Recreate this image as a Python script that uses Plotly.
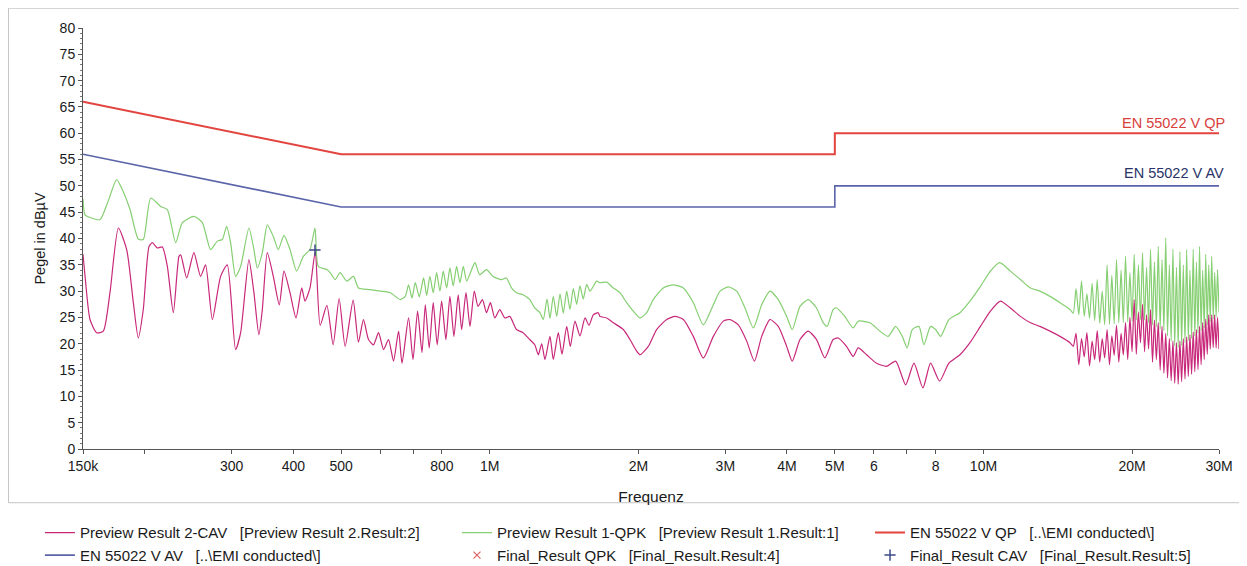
import plotly.graph_objects as go

# ---------------- data (frequencies in MHz, levels in dBµV) ----------------
qpk_f = [0.150, 0.1514, 0.1550, 0.1624, 0.1685, 0.1755, 0.1808, 0.1868, 0.1941, 0.1987,
         0.2057, 0.2155, 0.2223, 0.2311, 0.2384, 0.2516, 0.2617, 0.2720, 0.2807, 0.2873,
         0.2931, 0.2986, 0.3056, 0.3129, 0.3252, 0.3329, 0.3382, 0.3462, 0.3543, 0.3644,
         0.3730, 0.3830, 0.3939, 0.4064, 0.4191, 0.4324, 0.4426, 0.4494, 0.4678, 0.4750,
         0.4862, 0.4977, 0.5135, 0.5296, 0.5420, 0.5726, 0.6000, 0.6287, 0.6588, 0.6744,
         0.6848, 0.6957, 0.7066, 0.7199, 0.7345, 0.7450, 0.7564, 0.7682, 0.7805, 0.7926,
         0.8049, 0.8178, 0.8304, 0.8433, 0.8568, 0.8700, 0.8838, 0.8979, 0.9191, 0.9334,
         0.9544, 0.9847, 1.0155, 1.0561, 1.0810, 1.1065, 1.1327, 1.1680, 1.2052, 1.2337,
         1.2639, 1.2835, 1.3064, 1.3243, 1.3449, 1.3663, 1.3877, 1.4091, 1.4316, 1.4538,
         1.4764, 1.5000, 1.5232, 1.5468, 1.5717, 1.5960, 1.6467, 1.6719, 1.7250, 1.7790,
         1.8356, 1.8938, 1.9530, 2.0150, 2.079, 2.144, 2.246, 2.354, 2.467, 2.584,
         2.708, 2.837, 2.927, 3.042, 3.164, 3.289, 3.419, 3.555, 3.695, 3.841,
         3.994, 4.100, 4.250, 4.415, 4.591, 4.735, 4.824, 4.960, 5.040, 5.239,
         5.445, 5.577, 5.889, 6.170, 6.414, 6.641, 6.848, 7.007, 7.175, 7.403,
         7.575, 7.815, 8.000, 8.189, 8.512, 8.962, 9.391, 9.861, 10.33, 10.79,
         11.34, 11.88, 12.45, 13.01, 13.64, 14.29, 14.97,
         15.2, 15.4, 15.6, 15.8, 16.0, 16.2, 16.4, 16.6, 16.8, 17.0,
         17.2, 17.4, 17.6, 17.8, 18.0, 18.2, 18.4, 18.6, 18.8, 19.0,
         19.2, 19.4, 19.6, 19.8, 20.0, 20.2, 20.4, 20.6, 20.8, 21.0,
         21.2, 21.4, 21.6, 21.8, 22.0, 22.2, 22.4, 22.6, 22.8, 23.0,
         23.2, 23.4, 23.6, 23.8, 24.0, 24.2, 24.4, 24.6, 24.8, 25.0,
         25.2, 25.4, 25.6, 25.8, 26.0, 26.2, 26.4, 26.6, 26.8, 27.0,
         27.2, 27.4, 27.6, 27.8, 28.0, 28.2, 28.4, 28.6, 28.8, 29.0,
         29.2, 29.4, 29.6, 29.8, 30.0]
qpk_db = [47.5, 44.5, 44.0, 43.6, 47.0, 51.2, 49.0, 45.5, 39.9, 39.8,
          47.7, 46.1, 45.5, 39.2, 43.0, 44.2, 43.0, 37.9, 39.5, 39.8,
          42.3, 39.2, 32.8, 34.7, 42.0, 37.9, 34.4, 37.3, 42.6, 40.4,
          37.9, 40.6, 37.9, 33.8, 36.6, 37.9, 42.0, 34.7, 34.1, 33.5,
          32.2, 33.5, 31.9, 32.8, 30.6, 30.3, 30.0, 29.7, 28.4, 29.0,
          31.2, 28.7, 31.6, 28.9, 32.5, 29.2, 32.8, 29.7, 33.5, 30.0,
          33.8, 30.6, 34.4, 31.0, 34.7, 31.6, 34.7, 31.9, 34.1, 35.4,
          33.1, 34.1, 32.8, 32.2, 32.5, 30.6, 29.7, 29.3, 28.4, 26.8,
          25.9, 24.6, 28.5, 24.8, 29.0, 25.2, 29.5, 25.8, 30.0, 26.5,
          30.5, 27.5, 31.0, 28.5, 31.3, 30.0, 31.9, 31.6, 31.7, 30.6,
          29.7, 27.8, 26.2, 24.9, 25.9, 28.4, 30.6, 31.2, 30.6, 27.8,
          23.6, 27.4, 30.0, 30.8, 30.0, 26.8, 23.0, 27.4, 30.0, 28.4,
          25.2, 22.7, 27.1, 28.4, 26.8, 24.0, 23.3, 26.5, 26.8, 25.2,
          23.0, 24.3, 24.0, 22.4, 21.4, 23.3, 21.4, 19.2, 22.7, 23.3,
          19.8, 23.3, 22.7, 21.4, 24.6, 25.9, 28.1, 30.9, 33.8, 35.4,
          33.8, 32.2, 30.6, 30.0, 29.0, 27.8, 26.5,
          25.8, 30.5, 25.5, 31.9, 25.2, 29.5, 24.8, 31.5, 24.4, 32.2,
          23.9, 30.0, 23.6, 35.0, 23.7, 33.0, 23.8, 36.0, 24.0, 34.0,
          24.0, 36.6, 24.2, 33.5, 24.3, 37.0, 24.5, 35.0, 24.6, 37.3,
          24.5, 34.5, 24.0, 37.9, 23.6, 35.5, 23.2, 38.5, 22.8, 36.0,
          22.5, 40.1, 21.5, 35.0, 20.5, 38.0, 19.6, 34.5, 19.3, 37.5,
          19.7, 35.0, 20.2, 37.9, 20.6, 34.0, 21.0, 38.0, 21.5, 35.5,
          22.0, 38.5, 22.5, 34.0, 23.0, 37.0, 23.6, 35.0, 24.2, 36.6,
          24.7, 33.5, 25.1, 34.1, 26.0]

cav_f = [0.150, 0.1514, 0.1550, 0.1599, 0.1649, 0.1701, 0.1769, 0.1839, 0.1897, 0.1941,
         0.1987, 0.2041, 0.2073, 0.2122, 0.2172, 0.2223, 0.2286, 0.2347, 0.2366, 0.2433,
         0.2516, 0.2596, 0.2657, 0.2742, 0.2850, 0.2940, 0.3056, 0.3129, 0.3252, 0.3329,
         0.3407, 0.3462, 0.3543, 0.3644, 0.3747, 0.3830, 0.3939, 0.4051, 0.4160, 0.4224,
         0.4324, 0.4431, 0.4534, 0.4678, 0.4817, 0.4953, 0.5094, 0.5288, 0.5420, 0.5548,
         0.5681, 0.5815, 0.5953, 0.6093, 0.6237, 0.6384, 0.6536, 0.6641, 0.6848, 0.6990,
         0.7142, 0.7290, 0.7403, 0.7540, 0.7682, 0.7826, 0.7989, 0.8150, 0.8304, 0.8461,
         0.8631, 0.8772, 0.8950, 0.9118, 0.9303, 0.9469, 0.9665, 0.9847, 1.0033, 1.0236,
         1.0478, 1.0725, 1.0978, 1.1327, 1.1680, 1.2052, 1.2337, 1.2542, 1.2740, 1.2937,
         1.3243, 1.3449, 1.3767, 1.4006, 1.4316, 1.4561, 1.4881, 1.5232, 1.5593, 1.5885,
         1.6207, 1.6590, 1.6719, 1.7250, 1.7790, 1.8640, 1.9232, 1.9778, 2.0150, 2.095,
         2.178, 2.282, 2.373, 2.467, 2.584, 2.708, 2.837, 2.972, 3.067, 3.188,
         3.315, 3.436, 3.555, 3.695, 3.841, 3.994, 4.100, 4.250, 4.415, 4.591,
         4.772, 4.960, 5.078, 5.280, 5.445, 5.577, 5.799, 6.076, 6.366, 6.641,
         6.957, 7.232, 7.540, 7.815, 8.150, 8.512, 8.962, 9.391, 9.861, 10.33,
         10.82, 11.34, 11.88, 12.45, 13.01, 13.64, 14.29, 14.97,
         15.2, 15.4, 15.6, 15.8, 16.0, 16.2, 16.4, 16.6, 16.8, 17.0,
         17.2, 17.4, 17.6, 17.8, 18.0, 18.2, 18.4, 18.6, 18.8, 19.0,
         19.2, 19.4, 19.6, 19.8, 20.0, 20.2, 20.4, 20.6, 20.8, 21.0,
         21.2, 21.4, 21.6, 21.8, 22.0, 22.2, 22.4, 22.6, 22.8, 23.0,
         23.2, 23.4, 23.6, 23.8, 24.0, 24.2, 24.4, 24.6, 24.8, 25.0,
         25.2, 25.4, 25.6, 25.8, 26.0, 26.2, 26.4, 26.6, 26.8, 27.0,
         27.2, 27.4, 27.6, 27.8, 28.0, 28.2, 28.4, 28.6, 28.8, 29.0,
         29.2, 29.4, 29.6, 29.8, 30.0]
cav_db = [37.0, 33.0, 24.6, 22.1, 22.4, 29.7, 42.0, 37.9, 27.8, 21.1,
          26.5, 38.5, 39.2, 38.2, 38.4, 34.7, 25.9, 36.6, 36.9, 32.5,
          37.3, 32.8, 35.0, 24.6, 32.8, 35.0, 18.9, 22.1, 36.0, 29.7,
          21.7, 26.5, 37.3, 32.8, 27.4, 33.8, 29.7, 24.9, 30.6, 28.1,
          30.6, 37.5, 23.5, 27.3, 19.8, 28.6, 19.5, 28.3, 20.3, 24.6,
          20.8, 19.8, 22.1, 18.9, 20.8, 16.7, 22.4, 16.3, 24.9, 17.0,
          26.2, 18.3, 27.4, 19.2, 27.8, 19.8, 28.1, 20.8, 29.0, 21.4,
          29.3, 22.7, 29.7, 23.3, 30.0, 27.1, 28.4, 25.9, 27.8, 24.9,
          26.5, 24.9, 25.2, 22.7, 22.1, 20.8, 19.8, 17.9, 20.0, 17.0,
          21.4, 17.0, 22.1, 18.0, 23.3, 19.5, 24.3, 21.5, 24.9, 23.5,
          25.5, 25.9, 25.2, 24.9, 24.0, 22.7, 20.8, 18.8, 17.9, 19.5,
          22.7, 24.6, 25.2, 24.6, 21.4, 17.3, 21.4, 24.3, 24.6, 23.6,
          20.5, 16.7, 21.4, 24.6, 23.3, 19.5, 16.7, 20.8, 22.4, 20.8,
          17.3, 20.8, 21.1, 19.5, 17.6, 19.2, 17.9, 16.3, 15.7, 16.7,
          12.2, 16.3, 11.6, 16.3, 12.9, 16.3, 17.9, 20.2, 23.3, 26.2,
          28.1, 26.8, 25.2, 24.0, 23.3, 22.4, 21.4, 20.2,
          19.5, 22.0, 16.0, 21.0, 17.5, 22.1, 15.8, 20.5, 17.0, 22.5,
          16.5, 21.0, 17.3, 22.7, 16.0, 21.5, 17.8, 23.5, 16.5, 22.0,
          17.9, 24.0, 17.0, 25.0, 18.5, 28.4, 18.0, 26.0, 20.2, 27.5,
          18.5, 25.5, 19.0, 26.5, 16.5, 24.5, 17.0, 24.0, 15.0, 23.3,
          14.4, 22.0, 13.5, 21.0, 13.0, 20.5, 12.5, 20.2, 12.3, 20.5,
          12.8, 21.0, 13.3, 21.3, 13.8, 21.7, 14.2, 22.2, 14.7, 22.7,
          15.1, 23.3, 16.0, 24.0, 17.0, 24.7, 18.0, 25.5, 19.0, 25.5,
          19.3, 25.5, 19.2, 25.0, 19.0]

qp_limit_f = [0.15, 0.5, 5.0, 5.0, 30.0]
qp_limit_db = [66, 56, 56, 60, 60]
av_limit_f = [0.15, 0.5, 5.0, 5.0, 30.0]
av_limit_db = [56, 46, 46, 50, 50]

final_qpk_f = [None]
final_qpk_db = [None]
final_cav_f = [0.4426]
final_cav_db = [37.8]

tick_vals = [0.15, 0.2, 0.3, 0.4, 0.5, 0.6, 0.7, 0.8, 1, 2, 3, 4, 5, 6, 7, 8, 10, 20, 30]
tick_text = ["150k", "", "300", "400", "500", "", "", "800", "1M", "2M", "3M", "4M",
             "5M", "6", "", "8", "10M", "20M", "30M"]

# ---------------- styling ----------------
FONT = "Liberation Sans, Arial, sans-serif"
C_CAV = "#c8287a"
C_QPK = "#86cf72"
C_QP = "#e2443f"
C_AV = "#5a64a8"
SP = "\u00a0\u00a0\u00a0"

fig = go.Figure()
fig.add_trace(go.Scatter(x=qp_limit_f, y=qp_limit_db, mode="lines",
                         line=dict(color=C_QP, width=2), legend="legend3",
                         name="EN 55022 V QP" + SP + "[..\\EMI conducted\\]", legendrank=1))
fig.add_trace(go.Scatter(x=av_limit_f, y=av_limit_db, mode="lines",
                         line=dict(color=C_AV, width=1.6), legend="legend",
                         name="EN 55022 V AV" + SP + "[..\\EMI conducted\\]", legendrank=2))
fig.add_trace(go.Scatter(x=qpk_f, y=qpk_db, mode="lines", line_shape="spline",
                         line=dict(color=C_QPK, width=1.2, smoothing=0.6), legend="legend2",
                         name="Preview Result 1-QPK" + SP + "[Preview Result 1.Result:1]", legendrank=1))
fig.add_trace(go.Scatter(x=cav_f, y=cav_db, mode="lines", line_shape="spline",
                         line=dict(color=C_CAV, width=1.2, smoothing=0.6), legend="legend",
                         name="Preview Result 2-CAV" + SP + "[Preview Result 2.Result:2]", legendrank=1))
fig.add_trace(go.Scatter(x=final_qpk_f, y=final_qpk_db, mode="markers", legend="legend2",
                         marker=dict(symbol="x-thin", size=7, color="#e06060",
                                     line=dict(color="#e06060", width=1.2)),
                         name="Final_Result QPK" + SP + "[Final_Result.Result:4]", legendrank=2))
fig.add_trace(go.Scatter(x=final_cav_f, y=final_cav_db, mode="markers", legend="legend3",
                         marker=dict(symbol="cross-thin", size=8, color="#3c4a8a",
                                     line=dict(color="#3c4a8a", width=1.5)),
                         name="Final_Result CAV" + SP + "[Final_Result.Result:5]", legendrank=2))

fig.add_annotation(text="EN 55022 V QP", xref="paper", yref="y", x=1.007, y=62.0,
                   xanchor="right", yanchor="middle", showarrow=False,
                   font=dict(family=FONT, size=14.5, color="#d8403c"))
fig.add_annotation(text="EN 55022 V AV", xref="paper", yref="y", x=1.006, y=52.5,
                   xanchor="right", yanchor="middle", showarrow=False,
                   font=dict(family=FONT, size=14.5, color="#2a3468"))

# outer frame
fig.add_shape(type="rect", xref="paper", yref="paper", x0=-0.0656, x1=1.0202,
              y0=-0.1276, y1=1.047, line=dict(color="#c4c4c4", width=1), layer="below")

fig.update_xaxes(type="log", range=[-0.82391, 1.47712], tickvals=tick_vals, ticktext=tick_text,
                 showline=True, linecolor="#555555", linewidth=1, ticks="outside", ticklen=4,
                 tickcolor="#555555", showgrid=False, zeroline=False,
                 tickfont=dict(family=FONT, size=14, color="#1a1a1a"),
                 title=dict(text="Frequenz", font=dict(family=FONT, size=15.5, color="#1a1a1a"),
                            standoff=18))
fig.update_yaxes(range=[0, 80], dtick=5, showline=True, linecolor="#555555", linewidth=1,
                 ticks="outside", ticklen=4, tickcolor="#555555", showgrid=False, zeroline=False,
                 minor=dict(dtick=1, ticks="outside", ticklen=2, tickcolor="#777777"),
                 tickfont=dict(family=FONT, size=14, color="#1a1a1a"),
                 title=dict(text="Pegel in dBµV", font=dict(family=FONT, size=14.5, color="#1a1a1a"),
                            standoff=10))

LEG = dict(orientation="v", xanchor="left", yanchor="top", y=-0.160,
           font=dict(family=FONT, size=15, color="#1a1a1a"),
           bgcolor="rgba(0,0,0,0)", itemwidth=30, tracegroupgap=0, traceorder="normal")

fig.update_layout(
    width=1239, height=558,
    margin=dict(l=75, r=28, t=20, b=117, autoexpand=False),
    paper_bgcolor="white", plot_bgcolor="white",
    font=dict(family=FONT, size=13, color="#1a1a1a"),
    legend=dict(LEG, x=-0.0379),
    legend2=dict(LEG, x=0.3292),
    legend3=dict(LEG, x=0.6928),
    showlegend=True,
)

fig.write_html("out.html")
